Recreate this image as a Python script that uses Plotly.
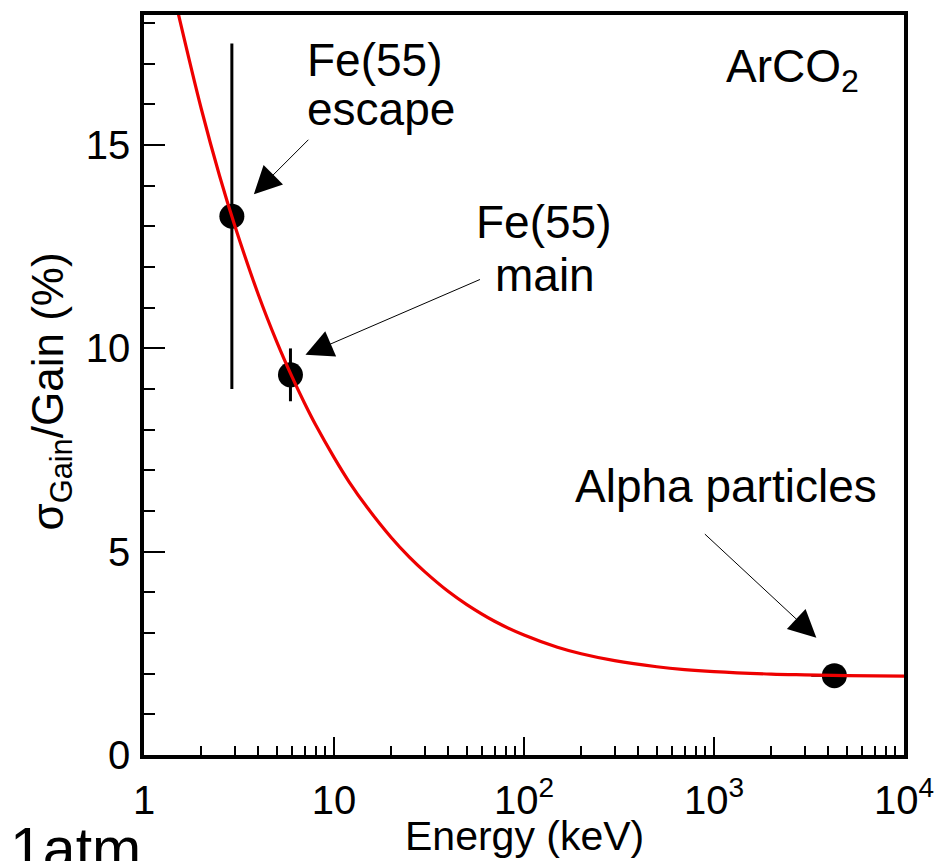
import math
import plotly.graph_objects as go

# Fitted resolution curve sampled along the energy axis (keV, %)
curve_energy = [1.5, 2, 2.5, 3, 4, 5, 6, 7, 8, 10, 12, 15, 20, 25, 30, 40, 50,
                70, 100, 150, 200, 300, 500, 700, 1000, 2000, 3000, 5000, 10000]
curve_resolution = [18.32, 15.9, 14.24, 13.03, 11.32, 10.16, 9.31, 8.65, 8.12,
                    7.32, 6.72, 6.08, 5.35, 4.86, 4.51, 4.02, 3.70, 3.29, 2.95,
                    2.65, 2.49, 2.32, 2.17, 2.10, 2.05, 1.99, 1.97, 1.95, 1.94]

# Measured points
point_names = ["Fe(55) escape", "Fe(55) main", "Alpha particles"]
point_energy = [2.9, 5.9, 4300]
point_energy_err = [0, 0, 1050]
point_resolution = [13.25, 9.35, 1.95]
point_resolution_err = [4.25, 0.65, 0]

# Axis ticks
x_tick_vals = [1, 10, 100, 1000, 10000]
x_tick_text = ["1", "10", "10<sup>2</sup>", "10<sup>3</sup>", "10<sup>4</sup>"]
x_minor_vals = [m * d for d in (1, 10, 100, 1000) for m in range(2, 10)]
y_range = [0, 18.2]

W, H = 945, 861
L, R, T, B = 144, 908, 11, 755


def px(xpix):
    return (xpix - L) / (R - L)


def py(ypix):
    return (B - ypix) / (B - T)


FONT = "Liberation Sans"

fig = go.Figure()

fig.add_trace(go.Scatter(
    x=point_energy, y=point_resolution, mode="markers",
    marker=dict(color="black", size=25),
    error_y=dict(type="data", array=point_resolution_err, color="black",
                 thickness=3, width=0),
    error_x=dict(type="data", array=point_energy_err, color="black",
                 thickness=2, width=0),
    showlegend=False, hoverinfo="skip",
))

fig.add_trace(go.Scatter(
    x=curve_energy, y=curve_resolution, mode="lines",
    line=dict(color="#ee0000", width=3.2, shape="spline"),
    showlegend=False, hoverinfo="skip",
))

axis_common = dict(showline=True, linecolor="black", linewidth=3.5, mirror=True,
                   showgrid=False, zeroline=False, ticks="inside",
                   tickcolor="black", tickwidth=2,
                   tickfont=dict(family=FONT, size=40, color="black"))

fig.update_xaxes(type="log", range=[0, 4], tickmode="array",
                 tickvals=x_tick_vals, ticktext=x_tick_text, ticklen=18,
                 ticklabelstandoff=7,
                 minor=dict(ticks="inside", tickmode="array",
                            tickvals=x_minor_vals, ticklen=9,
                            tickwidth=2, tickcolor="black"),
                 **axis_common)
fig.update_yaxes(range=y_range, tick0=0, dtick=5, ticklen=21,
                 ticklabelstandoff=2,
                 minor=dict(ticks="inside", dtick=1, ticklen=11,
                            tickwidth=2, tickcolor="black"),
                 **axis_common)

text_font = dict(family=FONT, size=46, color="black")
annotations = []

# Point labels
for txt, xc, yc in [("Fe(55)", 376, 56), ("escape", 382, 106),
                    ("Fe(55)", 546, 219), ("main", 547, 272),
                    ("Alpha particles", 729, 485)]:
    annotations.append(dict(text=txt, x=px(xc), y=py(yc), xref="paper",
                            yref="paper", xanchor="center", yanchor="middle",
                            showarrow=False, font=text_font))

annotations.append(dict(text="ArCO<sub>2</sub>", x=px(727), y=py(66),
                        xref="paper", yref="paper", xanchor="left",
                        yanchor="middle", showarrow=False, font=text_font))

# Arrows pointing at the measured points (tip offset, tail offset in px)
arrow_geom = [(22, 22, 56, -56), (15, 20, 176, -76), (-18, 38, -113, -105)]
for e, r, (dx, dy, ax, ay) in zip(point_energy, point_resolution, arrow_geom):
    annotations.append(dict(text="", x=math.log10(e), y=r, xref="x", yref="y",
                            xshift=dx, yshift=dy, showarrow=True, arrowhead=2,
                            arrowsize=5.5, arrowwidth=1, arrowcolor="black",
                            ax=ax, ay=ay, standoff=0, startstandoff=0))

# Axis titles
annotations.append(dict(text="Energy (keV)", x=px(526), y=py(836),
                        xref="paper", yref="paper", xanchor="center",
                        yanchor="middle", showarrow=False,
                        font=dict(family=FONT, size=41, color="black")))
annotations.append(dict(text="σ<sub>Gain</sub>/Gain (%)", x=px(50), y=py(389),
                        xref="paper", yref="paper", xanchor="center",
                        yanchor="middle", textangle=-90, showarrow=False,
                        font=dict(family=FONT, size=44, color="black")))
annotations.append(dict(text="1atm", x=px(7), y=py(814), xref="paper",
                        yref="paper", xanchor="left", yanchor="top",
                        showarrow=False,
                        font=dict(family=FONT, size=59, color="black")))

fig.update_layout(width=W, height=H,
                  margin=dict(l=L, r=W - R, t=T, b=H - B, pad=0),
                  paper_bgcolor="white", plot_bgcolor="white",
                  annotations=annotations, showlegend=False)

fig.write_html("out.html")
